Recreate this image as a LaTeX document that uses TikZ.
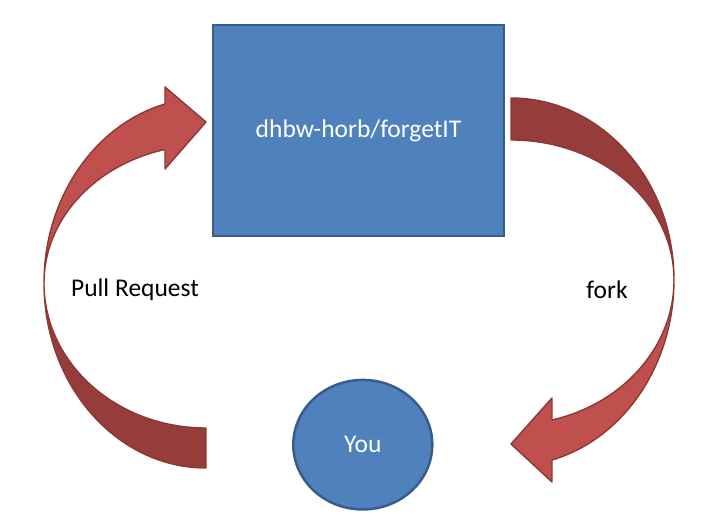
\documentclass[tikz,border=0pt]{standalone}
\usepackage{fontspec}
\setmainfont{Carlito}
\usepackage{xcolor}
\usepackage{tikz}
\usetikzlibrary{shapes.geometric}
\definecolor{boxblue}{HTML}{4F81BD}
\definecolor{boxline}{HTML}{385D8A}
\definecolor{arrlight}{HTML}{C0504D}
\definecolor{arrdark}{HTML}{963C3A}
\definecolor{arrline}{HTML}{8C3836}

\begin{document}
\begin{tikzpicture}[x=1pt,y=1pt,font=\fontsize{25.5}{30}\selectfont,bluebox/.style={draw=boxline,line width=2.5pt,fill=boxblue,text=white},bandarrow/.style={draw=arrline,line width=1.4pt,line join=round}]
            \useasboundingbox (0,0) rectangle (721,521);
            \node[bluebox,rectangle,minimum width=291,minimum height=211] (repo) at (358.5,390.5) {dhbw-horb/forgetIT};
            \node[bluebox,ellipse,minimum width=139,minimum height=129.5,inner sep=0pt] (you) at (362.8,76.3) {You};
            \node (pr) at (135,231) {Pull Request};
            \node (fk) at (607,231) {fork};
            \coordinate (cl) at (206,238);
            \coordinate (cr) at (511,241);
              \draw[bandarrow,fill=arrdark] (44,238) arc[start angle=180,end angle=270,x radius=162,y radius=185] -- (206,93) arc[start angle=270,end angle=180,x radius=162,y radius=145] -- cycle;
              \draw[bandarrow,fill=arrlight] (165,417) arc[start angle=104.66,end angle=180,x radius=162,y radius=185] arc[start angle=180,end angle=104.66,x radius=162,y radius=138] -- (165,352) -- (206,399) -- (165,434) -- cycle;
              \draw[bandarrow,fill=arrdark] (511,423) arc[start angle=90,end angle=0,x radius=163,y radius=182] arc[start angle=0,end angle=90,x radius=163,y radius=140] -- cycle;
              \draw[bandarrow,fill=arrlight] (674,241) arc[start angle=0,end angle=-75.43,x radius=163,y radius=186] -- (552,39) -- (511,77) -- (552,123) -- (552,101) arc[start angle=-75.43,end angle=0,x radius=163,y radius=144.6] -- cycle;
            \end{tikzpicture}
\end{document}
